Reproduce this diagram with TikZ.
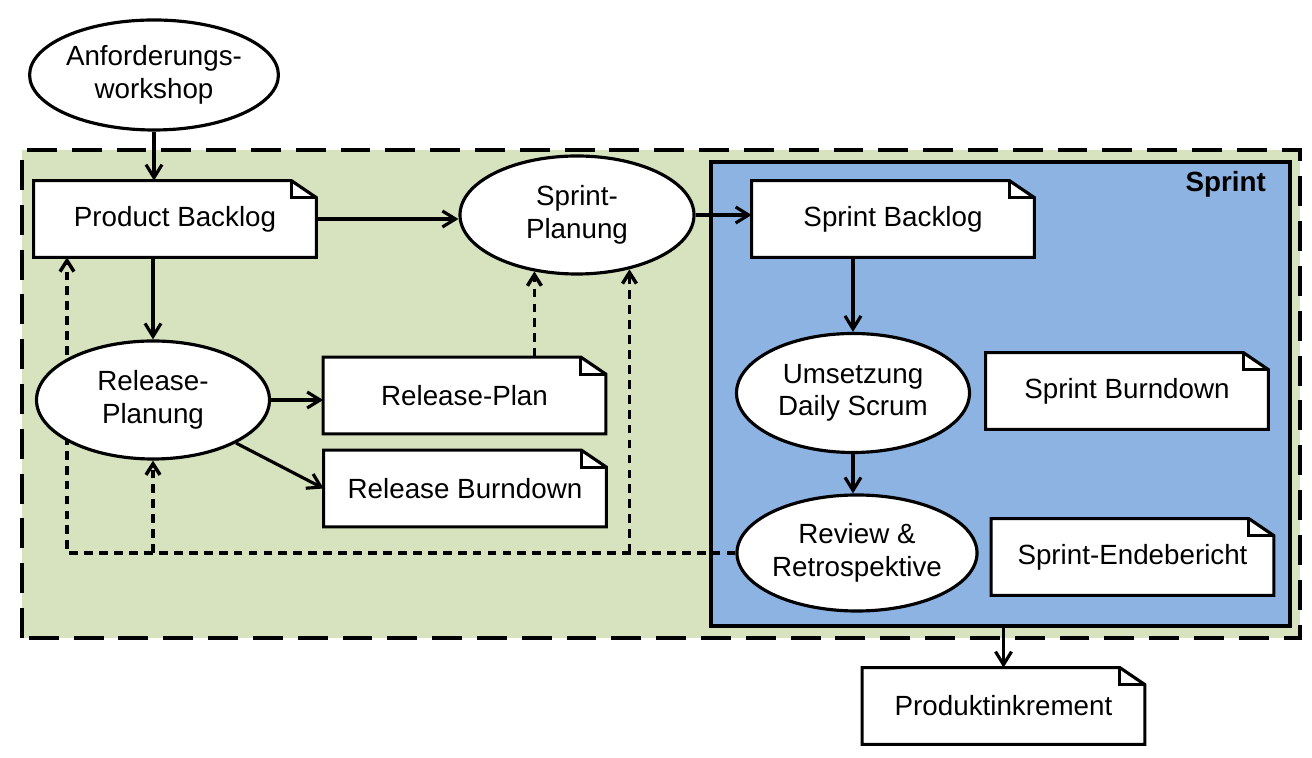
\documentclass[tikz,border=0pt]{standalone}
\usepackage{fontspec}
\setmainfont{Liberation Sans}
\usetikzlibrary{arrows.meta,positioning,shapes.geometric,backgrounds,calc}
\definecolor{planbg}{HTML}{D7E3BF}
\definecolor{sprintbg}{HTML}{8DB3E2}

\tikzset{
  activity/.style={ellipse,draw,line width=1.8pt,fill=white,align=center,inner sep=0pt,
    minimum width=4.66cm,minimum height=2.36cm},
  docbox/.style={minimum width=5.64cm,minimum height=1.52cm,inner sep=0pt,align=center},
  docline/.style={line width=1.8pt,line join=miter},
  flow/.style={line width=1.8pt,-{Straight Barb[length=2.6mm,width=3.2mm]}},
  feedback/.style={line width=2pt,dash pattern=on 5pt off 3.5pt,-{Straight Barb[length=2.2mm,width=2.8mm]}},
}

\begin{document}
\begin{tikzpicture}[font=\fontsize{15.8}{18.5}\selectfont]
  \useasboundingbox (0,0) rectangle (26.24,15.16);

  % activities
  \node[activity,minimum width=4.64cm,minimum height=2.2cm] (aw) at (3.08,13.66) {Anforderungs-\\workshop};
  \node[activity,minimum width=4.68cm] (sp) at (11.54,10.86) {Sprint-\\Planung};
  \node[activity] (rpl) at (3.06,7.16) {Release-\\Planung};
  \node[activity,minimum height=2.38cm] (us) at (17.06,7.30) {Umsetzung\\Daily Scrum};
  \node[activity,minimum width=4.76cm,minimum height=2.32cm] (rr) at (17.14,4.10) {Review \&\\Retrospektive};

  % artefacts
  \node[docbox] (pb) at (3.50,10.78) {Product Backlog};
  \node[docbox] (sb) at (17.86,10.78) {Sprint Backlog};
  \node[docbox] (rp) at (9.29,7.25) {Release-Plan};
  \node[docbox] (rb) at (9.30,5.39) {Release Burndown};
  \node[docbox] (sbd) at (22.54,7.34) {Sprint Burndown};
  \node[docbox] (seb) at (22.65,4.02) {Sprint-Endebericht};
  \node[docbox] (pi) at (20.07,1.04) {Produktinkrement};

  % main flow
  \draw[flow] (aw.south) -- (aw.south |- pb.north);
  \draw[flow] (pb.east) -- (pb.east -| sp.west);
  \draw[flow] (sp.east) -- (sp.east -| sb.west);
  \draw[flow] (rpl.north |- pb.south) -- (rpl.north);
  \draw[flow] (rpl.east) -- (rpl.east -| rp.west);
  \draw[flow] (rpl) -- (rb.west);
  \draw[flow] (us.north |- sb.south) -- (us.north);
  \draw[flow] (us.south) -- (us.south |- rr.north);

  \begin{scope}[on background layer]
    \draw[line width=2.4pt,dash pattern=on 17pt off 8.5pt,fill=planbg] (0.44,2.40) rectangle (26.00,12.16);
    \node[draw,line width=2.2pt,fill=sprintbg,minimum width=11.58cm,minimum height=9.28cm,inner sep=0pt] (sprint) at (20.01,7.28) {};
    \node[font=\fontsize{15.8}{18.5}\selectfont\bfseries,anchor=east] (sprintlabel) at ($(sprint.north east)+(-0.40,-0.48)$) {Sprint};

    % feedback loops
    \coordinate (backx) at (1.34,4.10);
    \draw[feedback] (rr.west) -- (rr.west -| backx) -- (backx |- pb.south);
    \draw[feedback] (rpl.south |- rr.west) -- (rpl.south);
    \draw[feedback] (sp.-46 |- rr.west) -- (sp.-46);
    \draw[feedback] (sp.-127 |- rp.north) -- (sp.-127);

    % document outlines
    \foreach \d in {pb,sb,rp,rb,sbd,seb,pi}{
      \draw[docline,fill=white] (\d.south west) -- (\d.south east) -- ([yshift=-0.34cm]\d.north east)
        -- ([xshift=-0.5cm]\d.north east) -- (\d.north west) -- cycle;
      \draw[docline] ([xshift=-0.5cm]\d.north east) |- ([yshift=-0.34cm]\d.north east);
    }
  \end{scope}

  \draw[flow] (sprint.south -| pi.north) -- (pi.north);
\end{tikzpicture}
\end{document}
